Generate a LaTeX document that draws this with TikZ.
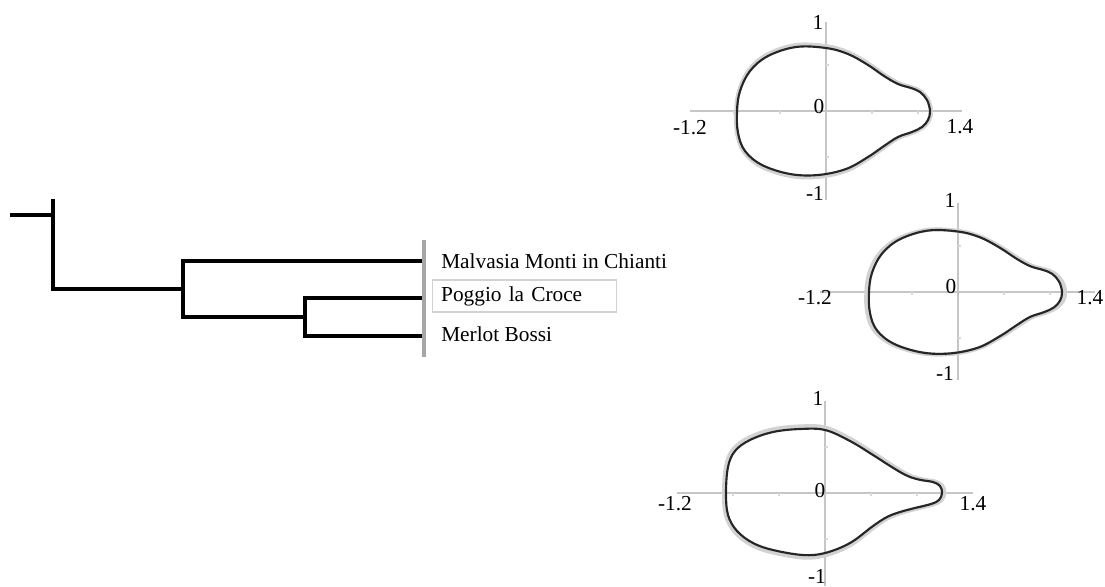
\documentclass[tikz,border=0pt]{standalone}
\usepackage{fontspec}
\setmainfont{Liberation Serif}
\tikzset{
  tree/.style={line width=3.4pt, black, line cap=rect, line join=miter},
  axisline/.style={draw=gray!45, line width=1.1pt},
  tickline/.style={draw=gray!30, line width=0.8pt},
  halo/.style={draw=gray!35, line width=3pt},
  curve/.style={draw=black!85, line width=1.6pt},
  lbl/.style={font=\fontsize{16}{19}\selectfont, inner sep=0pt},
  leaf/.style={font=\fontsize{16}{19}\selectfont, inner sep=0pt, anchor=west},
}
\newcommand\pearA[1]{\draw[#1] plot[smooth cycle, tension=0.6] coordinates {(104,0) (101,11) (94,19) (85,23) (72,27) (58,35) (42,46) (22,57) (0,63) (-30,64) (-58,55) (-76,40) (-86,20) (-89,0) (-88,-22) (-81,-40) (-64,-54) (-36,-63) (-8,-64) (20,-58) (42,-46) (58,-35) (72,-26) (86,-21) (96,-16) (102,-9)};}
\newcommand\pearB[1]{\draw[#1] plot[smooth cycle, tension=0.6] coordinates {(117,0) (115,7) (108,11) (96,13) (85,16) (75,21) (62,29) (48,38) (25,52) (0,63) (-25,64) (-52,61) (-75,53) (-90,42) (-97,26) (-99,0) (-97,-22) (-88,-38) (-72,-50) (-52,-57) (-22,-62) (0,-60) (25,-50) (48,-33) (62,-24) (75,-19) (90,-15) (106,-11) (114,-7)};}
\newcommand\axes[4]{%
  \draw[axisline] (#1,0) -- (#2,0);
  \draw[axisline] (0,#3) -- (0,#4);
  \foreach \t in {-92,-46,46,92} {\draw[tickline] (\t,0) -- (\t,3);}
  \foreach \t in {-46,46} {\draw[tickline] (0,\t) -- (3,\t);}
}
\begin{document}
\begin{tikzpicture}[x=0.75pt,y=-0.75pt]
\useasboundingbox (0,0) rectangle (1105,586);
% ---------- dendrogram ----------
\coordinate (stub) at (12,215);
\coordinate (rtop) at (53,201);
\coordinate (rjoin) at (53,215);
\coordinate (rbot) at (53,289);
\coordinate (n1) at (183,289);
\coordinate (n1top) at (183,261);
\coordinate (n1bot) at (183,317);
\coordinate (n2) at (305,317);
\coordinate (n2top) at (305,298);
\coordinate (n2bot) at (305,336);
\coordinate (tipA) at (422,261);
\coordinate (tipB) at (422,298);
\coordinate (tipC) at (422,336);
\coordinate (bartop) at (424,240);
\coordinate (barbot) at (424,357);
\draw[tree] (stub) -- (rjoin);
\draw[tree] (rtop) -- (rbot) -- (n1);
\draw[tree] (n1top) -- (n1bot);
\draw[tree] (n1top) -- (tipA);
\draw[tree] (n1bot) -- (n2);
\draw[tree] (n2top) -- (n2bot);
\draw[tree] (n2top) -- (tipB);
\draw[tree] (n2bot) -- (tipC);
\draw[gray!70, line width=2.4pt] (bartop) -- (barbot);
\node[leaf] (malv) at (441,261) {Malvasia Monti in Chianti};
\node[leaf, draw=gray!35, line width=0.8pt, inner xsep=6.5pt, minimum height=24pt, text width=125pt, align=left] (pogg) at (432,296) {Poggio la Croce};
\node[leaf] (merl) at (441,334) {Merlot Bossi};
% ---------- plot 1 ----------
\begin{scope}[shift={(826,111)}]
  \axes{-136}{136}{-89}{89}
  \begin{scope}[yscale=-1]
    \pearA{halo, xscale=1.01, yscale=1.03}
    \pearA{curve}
  \end{scope}
  \node[lbl] (p1a) at (-8,-89) {1};
  \node[lbl] (p1b) at (-7,-4) {0};
  \node[lbl] (p1c) at (-136,17) {-1.2};
  \node[lbl] (p1d) at (134,16) {1.4};
  \node[lbl] (p1e) at (-11,82) {-1};
\end{scope}
% ---------- plot 2 ----------
\begin{scope}[shift={(958,292)}]
  \axes{-138}{137}{-89}{88}
  \begin{scope}[yscale=-1]
    \pearA{halo, xscale=1.03, yscale=0.97}
    \pearA{curve, yscale=0.96}
  \end{scope}
  \node[lbl] (p2a) at (-8,-92) {1};
  \node[lbl] (p2b) at (-7,-5) {0};
  \node[lbl] (p2c) at (-143,6) {-1.2};
  \node[lbl] (p2d) at (132,6) {1.4};
  \node[lbl] (p2e) at (-13,81) {-1};
\end{scope}
% ---------- plot 3 ----------
\begin{scope}[shift={(825,493)}]
  \axes{-148}{148}{-92}{93}
  \begin{scope}[yscale=-1]
    \pearB{halo, xscale=1.02, yscale=1.04}
    \pearB{curve}
  \end{scope}
  \node[lbl] (p3a) at (-7,-95) {1};
  \node[lbl] (p3b) at (-5,-3) {0};
  \node[lbl] (p3c) at (-150,11) {-1.2};
  \node[lbl] (p3d) at (148,11) {1.4};
  \node[lbl] (p3e) at (-8,83) {-1};
\end{scope}
\end{tikzpicture}
\end{document}
